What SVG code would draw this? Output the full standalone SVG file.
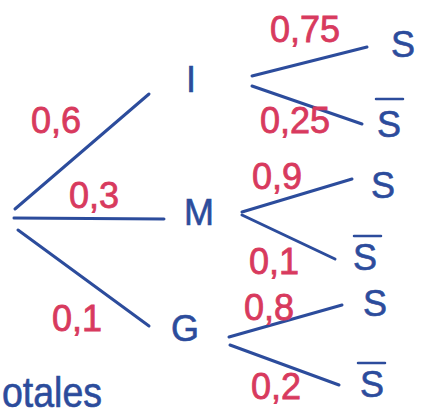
<svg xmlns="http://www.w3.org/2000/svg" width="426" height="415" viewBox="0 0 426 415">
<style>
.ln{stroke:#2c4c9c;stroke-width:3;stroke-linecap:round;fill:none}
.p{font-family:"Liberation Sans",Arial,sans-serif;font-size:36px;fill:#d83a5e;stroke:#d83a5e;stroke-width:0.8}
.n{font-family:"Liberation Sans",Arial,sans-serif;font-size:36px;fill:#2c4c9c;stroke:#2c4c9c;stroke-width:0.6}
.ov{stroke:#2c4c9c;stroke-width:2.5;stroke-linecap:round}
</style>
<rect width="426" height="415" fill="#fff"/>
<g id="connectors">
<line class="ln" x1="15" y1="209" x2="149" y2="94"/>
<line class="ln" x1="14" y1="218" x2="164" y2="219"/>
<line class="ln" x1="18" y1="230" x2="149" y2="326"/>
<line class="ln" x1="252" y1="76" x2="367" y2="47"/>
<line class="ln" x1="252" y1="86" x2="362" y2="124"/>
<line class="ln" x1="242" y1="212" x2="352" y2="179"/>
<line class="ln" x1="242" y1="215" x2="335" y2="259"/>
<line class="ln" x1="229" y1="337" x2="342" y2="305"/>
<line class="ln" x1="230" y1="345" x2="339" y2="385"/>
</g>
<g id="labels">
<text class="p" x="31" y="133">0,6</text>
<text class="p" x="69" y="208">0,3</text>
<text class="p" x="52" y="331">0,1</text>
<text class="p" x="270" y="42">0,75</text>
<text class="p" x="260" y="133">0,25</text>
<text class="p" x="252" y="189">0,9</text>
<text class="p" x="249" y="274">0,1</text>
<text class="p" x="244" y="320">0,8</text>
<text class="p" x="251" y="399">0,2</text>
</g>
<g id="node-root"/>
<g id="node-I"><text class="n" x="186" y="92">I</text></g>
<g id="node-M"><text class="n" x="184" y="225">M</text></g>
<g id="node-G"><text class="n" x="171" y="341">G</text></g>
<g id="node-IS"><text class="n" x="391" y="57">S</text></g>
<g id="node-ISb"><text class="n" x="377" y="137">S</text><line class="ov" x1="376" y1="99" x2="403" y2="99"/></g>
<g id="node-MS"><text class="n" x="371" y="198">S</text></g>
<g id="node-MSb"><text class="n" x="353" y="270">S</text><line class="ov" x1="354" y1="236" x2="381" y2="236"/></g>
<g id="node-GS"><text class="n" x="363" y="316">S</text></g>
<g id="node-GSb"><text class="n" x="360" y="397">S</text><line class="ov" x1="358" y1="363" x2="385" y2="363"/></g>
<text class="n" x="2" y="407" style="font-size:42px" textLength="100" lengthAdjust="spacingAndGlyphs">otales</text>
</svg>
